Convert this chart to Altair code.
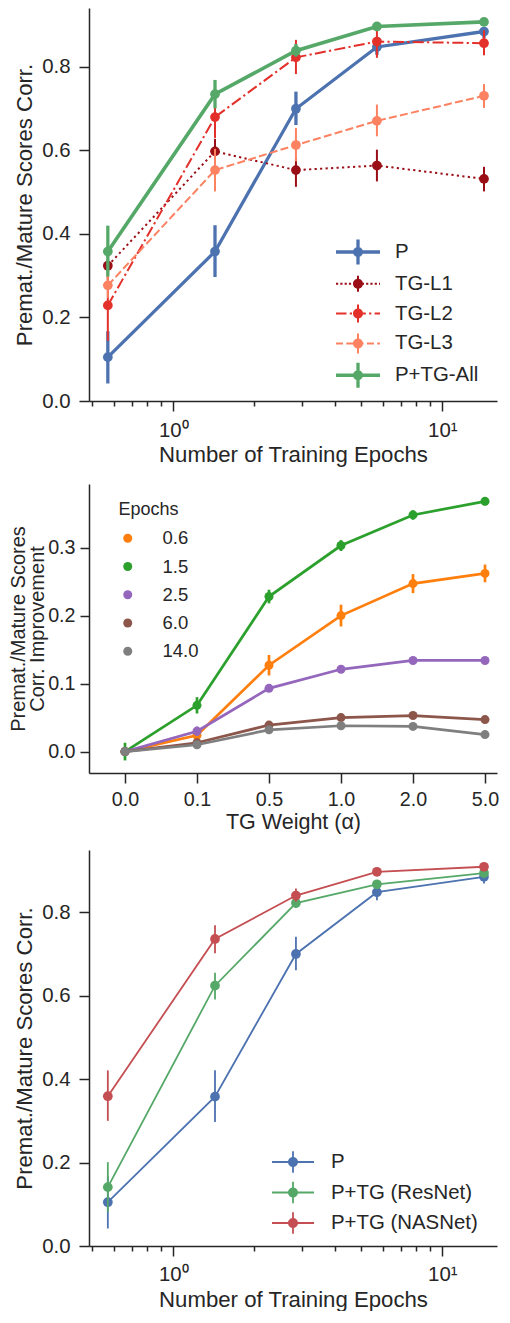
import json
import altair as alt
import pandas as pd

FONT = "Liberation Sans"
INK = "#262626"

# ---------------- data ----------------
epochs = [0.571, 1.429, 2.857, 5.714, 14.286]
x_major_ticks = [1, 10]
x_major_labels = ["10\u2070", "10\u00b9"]
x_minor_ticks = [0.5, 0.6, 0.7, 0.8, 0.9, 2, 3, 4, 5, 6, 7, 8, 9]

# panel 1
p1_series = ["P", "TG-L1", "TG-L2", "TG-L3", "P+TG-All"]
p1_colors = ["#4c72b0", "#9a0e16", "#e3302a", "#fc8262", "#55a868"]
p1_P_mean = [0.105, 0.358, 0.700, 0.848, 0.885]
p1_P_lo = [0.042, 0.297, 0.661, 0.829, 0.869]
p1_P_hi = [0.167, 0.421, 0.741, 0.860, 0.896]
p1_L1_mean = [0.324, 0.598, 0.553, 0.564, 0.532]
p1_L1_lo = [0.290, 0.568, 0.513, 0.526, 0.502]
p1_L1_hi = [0.358, 0.628, 0.582, 0.602, 0.561]
p1_L2_mean = [0.229, 0.680, 0.823, 0.861, 0.857]
p1_L2_lo = [0.144, 0.630, 0.783, 0.822, 0.828]
p1_L2_hi = [0.314, 0.730, 0.865, 0.889, 0.888]
p1_L3_mean = [0.277, 0.553, 0.613, 0.671, 0.731]
p1_L3_lo = [0.247, 0.502, 0.574, 0.634, 0.702]
p1_L3_hi = [0.307, 0.604, 0.654, 0.710, 0.759]
p1_All_mean = [0.358, 0.735, 0.839, 0.897, 0.908]
p1_All_lo = [0.298, 0.701, 0.825, 0.889, 0.902]
p1_All_hi = [0.420, 0.769, 0.855, 0.905, 0.914]

# panel 2
alphas = ["0.0", "0.1", "0.5", "1.0", "2.0", "5.0"]
p2_series = ["0.6", "1.5", "2.5", "6.0", "14.0"]
p2_colors = ["#ff7f0e", "#2ca02c", "#9467bd", "#8c564b", "#7f7f7f"]
p2_06_mean = [0.000, 0.024, 0.127, 0.200, 0.247, 0.262]
p2_06_err = [0.004, 0.006, 0.015, 0.016, 0.014, 0.013]
p2_15_mean = [0.000, 0.068, 0.228, 0.303, 0.348, 0.368]
p2_15_err = [0.013, 0.012, 0.010, 0.008, 0.007, 0.006]
p2_25_mean = [0.000, 0.030, 0.093, 0.121, 0.134, 0.134]
p2_25_err = [0.003, 0.007, 0.004, 0.003, 0.003, 0.003]
p2_60_mean = [0.000, 0.013, 0.039, 0.050, 0.053, 0.047]
p2_60_err = [0.002, 0.003, 0.003, 0.003, 0.003, 0.003]
p2_140_mean = [0.000, 0.010, 0.032, 0.038, 0.037, 0.025]
p2_140_err = [0.002, 0.003, 0.003, 0.003, 0.003, 0.003]

# panel 3
p3_series = ["P", "P+TG (ResNet)", "P+TG (NASNet)"]
p3_colors = ["#4c72b0", "#55a868", "#c44e52"]
p3_P_mean = [0.105, 0.358, 0.700, 0.848, 0.885]
p3_P_lo = [0.042, 0.297, 0.661, 0.829, 0.869]
p3_P_hi = [0.167, 0.421, 0.741, 0.860, 0.896]
p3_Res_mean = [0.141, 0.624, 0.822, 0.867, 0.894]
p3_Res_lo = [0.082, 0.591, 0.810, 0.859, 0.886]
p3_Res_hi = [0.201, 0.655, 0.834, 0.875, 0.902]
p3_NAS_mean = [0.359, 0.736, 0.840, 0.897, 0.909]
p3_NAS_lo = [0.300, 0.702, 0.825, 0.889, 0.903]
p3_NAS_hi = [0.421, 0.769, 0.857, 0.905, 0.915]


def long_table(xs, names, means, los, his, xname):
    rows = []
    for name, m, lo, hi in zip(names, means, los, his):
        for x, a, b, c in zip(xs, m, lo, hi):
            rows.append({xname: x, "series": name, "mean": a, "lo": b, "hi": c})
    return pd.DataFrame(rows)


df1 = long_table(epochs, p1_series,
                 [p1_P_mean, p1_L1_mean, p1_L2_mean, p1_L3_mean, p1_All_mean],
                 [p1_P_lo, p1_L1_lo, p1_L2_lo, p1_L3_lo, p1_All_lo],
                 [p1_P_hi, p1_L1_hi, p1_L2_hi, p1_L3_hi, p1_All_hi], "epoch")

p2_means = [p2_06_mean, p2_15_mean, p2_25_mean, p2_60_mean, p2_140_mean]
p2_errs = [p2_06_err, p2_15_err, p2_25_err, p2_60_err, p2_140_err]
idx = list(range(len(alphas)))
df2 = long_table(idx, p2_series, p2_means,
                 [[m - e for m, e in zip(ms, es)] for ms, es in zip(p2_means, p2_errs)],
                 [[m + e for m, e in zip(ms, es)] for ms, es in zip(p2_means, p2_errs)], "idx")

df3 = long_table(epochs, p3_series,
                 [p3_P_mean, p3_Res_mean, p3_NAS_mean],
                 [p3_P_lo, p3_Res_lo, p3_NAS_lo],
                 [p3_P_hi, p3_Res_hi, p3_NAS_hi], "epoch")


# ---------------- helpers ----------------
def series_layers(df, names, colors, styles, xfield, xscale, xaxis, yscale, yaxis):
    layers = []
    X = alt.X(f"{xfield}:Q", scale=xscale, axis=xaxis)
    for name, color, st in zip(names, colors, styles):
        base = alt.Chart(df).transform_filter(alt.datum.series == name)
        bars = base.mark_rule(color=color, strokeWidth=st["ew"]).encode(
            x=X, y=alt.Y("lo:Q", scale=yscale, axis=yaxis), y2="hi:Q")
        line_kw = dict(color=color, strokeWidth=st["lw"])
        if st.get("dash"):
            line_kw["strokeDash"] = st["dash"]
        line = base.mark_line(**line_kw).encode(
            x=X, y=alt.Y("mean:Q", scale=yscale, axis=yaxis))
        pts = base.mark_circle(color=color, size=st["ms"], opacity=1).encode(
            x=X, y=alt.Y("mean:Q", scale=yscale, axis=yaxis))
        layers += [bars, line, pts]
    return layers


def legend_path(unit, half_len, line_hw, dash, err_half, err_hw, marker_r):
    def u(v):
        return round(v / unit, 4)
    parts = []

    def rect(x0, y0, x1, y1):
        parts.append(f"M{u(x0)},{u(y0)}H{u(x1)}V{u(y1)}H{u(x0)}Z")

    if not dash:
        rect(-half_len, -line_hw, half_len, line_hw)
    else:
        x = -half_len
        i = 0
        while x < half_len:
            seg = dash[i % len(dash)]
            if i % 2 == 0:
                rect(x, -line_hw, min(x + seg, half_len), line_hw)
            x += seg
            i += 1
    rect(-err_hw, -err_half, err_hw, err_half)
    r = marker_r
    parts.append(f"M{u(r)},0A{u(r)},{u(r)} 0 1 1 {u(-r)},0A{u(r)},{u(r)} 0 1 1 {u(r)},0Z")
    return "".join(parts)


log_tick_values = sorted(x_minor_ticks + x_major_ticks)
major_test = f"indexof({json.dumps(x_major_ticks)}, datum.value) >= 0"


def log_x_axis(label_pad, title_pad):
    return alt.Axis(
        values=log_tick_values,
        labelExpr=(f"{major_test} ? {json.dumps(x_major_labels)}"
                   f"[indexof({json.dumps(x_major_ticks)}, datum.value)] : ''"),
        tickSize={"condition": {"test": major_test, "value": 10}, "value": 5},
        labelPadding=label_pad, labelFontSize=20.4, labelOverlap=False,
        labelFlush=False, title="Number of Training Epochs", titleFontSize=22.2,
        titlePadding=title_pad)


def corr_y_axis():
    return alt.Axis(values=[0, 0.2, 0.4, 0.6, 0.8], format=".1f", tickSize=10,
                    labelPadding=9, labelFontSize=20.4,
                    title="Premat./Mature Scores Corr.", titleFontSize=22.2,
                    titlePadding=5)


W = 408
xlog = alt.Scale(type="log", domain=[0.486, 15.97], nice=False)

# ---------------- panel 1 ----------------
y1 = alt.Scale(domain=[0, 0.9413], nice=False, zero=False)
xa1 = log_x_axis(9, 3.5)
ya1 = corr_y_axis()
p1_styles = [
    dict(lw=3.3, ew=3.3, ms=95),
    dict(lw=2.0, ew=2.0, ms=95, dash=[2.2, 3.3]),
    dict(lw=2.0, ew=2.0, ms=95, dash=[11, 3.3, 2.2, 3.3]),
    dict(lw=2.0, ew=2.0, ms=95, dash=[8, 3.3]),
    dict(lw=3.6, ew=3.3, ms=95),
]
p1_paths = [
    legend_path(11, 22, 1.65, None, 12.5, 1.65, 5),
    legend_path(11, 22, 1.0, [2.2, 2.1], 8, 1.0, 5),
    legend_path(11, 22, 1.0, [10.5, 3.3, 2.2, 3.3], 9, 1.0, 5),
    legend_path(11, 22, 1.0, [7, 3.3], 10, 1.0, 5),
    legend_path(11, 22, 1.8, None, 12.5, 1.65, 5),
]
leg1_kw = dict(orient="none", legendX=258, legendY=233, symbolSize=484,
               symbolStrokeWidth=0, labelFontSize=20.4, labelOffset=26,
               rowPadding=7.8, padding=0, labelLimit=300)
leg1 = alt.Chart(df1).transform_filter("false").mark_point(filled=True, opacity=1).encode(
    color=alt.Color("series:N", title=None,
                    scale=alt.Scale(domain=p1_series, range=p1_colors),
                    legend=alt.Legend(**leg1_kw)),
    shape=alt.Shape("series:N", title=None,
                    scale=alt.Scale(domain=p1_series, range=p1_paths),
                    legend=alt.Legend(**leg1_kw)))
panel1 = alt.layer(
    *series_layers(df1, p1_series, p1_colors, p1_styles, "epoch", xlog, xa1, y1, ya1),
    leg1,
).properties(width=W, height=393)

# ---------------- panel 2 ----------------
x2 = alt.Scale(domain=[-0.5, -0.5 + W / 72], nice=False, zero=False)
y2 = alt.Scale(domain=[-0.0315, 0.3935], nice=False, zero=False)
xa2 = alt.Axis(values=idx, labelExpr=f"{json.dumps(alphas)}[datum.value]",
               tickSize=10, labelPadding=6, labelFontSize=19.7, labelFlush=False,
               title="TG Weight (\u03b1)", titleFontSize=21.5, titlePadding=2.5)
ya2 = alt.Axis(values=[0, 0.1, 0.2, 0.3], format=".1f", tickSize=9, labelPadding=5,
               labelFontSize=19.7, title=["Premat./Mature Scores", "Corr. Improvement"],
               titleFontSize=20, titleLineHeight=19.5, titlePadding=0)
p2_styles = [dict(lw=2.7, ew=2.7, ms=81) for _ in p2_series]
leg2 = alt.Chart(df2).transform_filter("false").mark_circle(opacity=1).encode(
    color=alt.Color("series:N", title="Epochs",
                    scale=alt.Scale(domain=p2_series, range=p2_colors),
                    legend=alt.Legend(orient="none", legendX=29.5, legendY=17,
                                      symbolType="circle", symbolSize=81,
                                      symbolStrokeWidth=0, labelFontSize=18.5,
                                      titleFontSize=18, labelOffset=25.5,
                                      rowPadding=9.25, titlePadding=10, padding=0,
                                      titleAnchor="start")))
panel2 = alt.layer(
    *series_layers(df2, p2_series, p2_colors, p2_styles, "idx", x2, xa2, y2, ya2),
    leg2,
).properties(width=W, height=289)

# ---------------- panel 3 ----------------
y3 = alt.Scale(domain=[0, 0.9492], nice=False, zero=False)
xa3 = log_x_axis(8.2, 3.9)
ya3 = corr_y_axis()
p3_styles = [dict(lw=1.8, ew=1.8, ms=95) for _ in p3_series]
p3_paths = [legend_path(11, 21, 0.9, None, 10.8, 0.9, 5) for _ in p3_series]
leg3_kw = dict(orient="none", legendX=193, legendY=301, symbolSize=484,
               symbolStrokeWidth=0, labelFontSize=20.4, labelOffset=27,
               rowPadding=8.5, padding=0, labelLimit=300)
leg3 = alt.Chart(df3).transform_filter("false").mark_point(filled=True, opacity=1).encode(
    color=alt.Color("series:N", title=None,
                    scale=alt.Scale(domain=p3_series, range=p3_colors),
                    legend=alt.Legend(**leg3_kw)),
    shape=alt.Shape("series:N", title=None,
                    scale=alt.Scale(domain=p3_series, range=p3_paths),
                    legend=alt.Legend(**leg3_kw)))
panel3 = alt.layer(
    *series_layers(df3, p3_series, p3_colors, p3_styles, "epoch", xlog, xa3, y3, ya3),
    leg3,
).properties(width=W, height=396)

chart = alt.vconcat(panel1, panel2, panel3, spacing=17).resolve_scale(
    color="independent", shape="independent"
).resolve_legend(
    color="independent", shape="independent"
).properties(
    padding=0
).configure_view(stroke=None).configure_axis(
    domainColor=INK, domainWidth=1.5, tickColor=INK, tickWidth=1.5,
    labelColor=INK, titleColor=INK, labelFont=FONT, titleFont=FONT,
    titleFontWeight="normal", grid=False
).configure_legend(
    labelFont=FONT, titleFont=FONT, labelColor=INK, titleColor=INK,
    titleFontWeight="normal"
)

chart.save("out.html", embed_options={"renderer": "svg", "actions": False})
